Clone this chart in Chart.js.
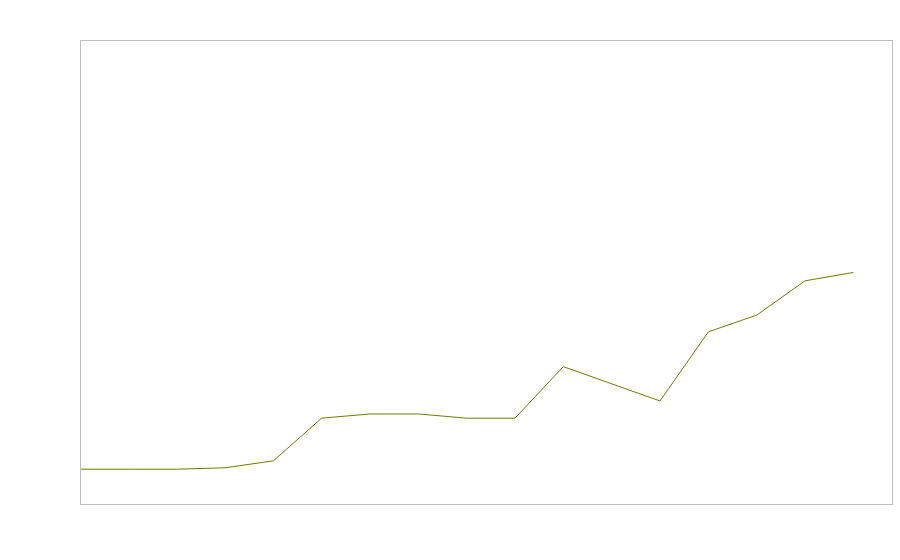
<!DOCTYPE html>
<html>
<head>
<meta charset="utf-8">
<script src="https://cdn.jsdelivr.net/npm/chart.js@4"></script>
<style>
  html, body { margin: 0; padding: 0; background: #fff; }
  #wrap { width: 900px; height: 560px; }
</style>
</head>
<body>
<div id="wrap"><canvas id="chart" width="900" height="560"></canvas></div>
<script>
// data (no tick labels shown, so units are relative)
const categories = [0, 1, 2, 3, 4, 5, 6, 7, 8, 9, 10, 11, 12, 13, 14, 15, 16];
const values = [7.5, 7.5, 7.5, 7.8, 9.3, 18.5, 19.4, 19.4, 18.5, 18.5, 29.6, 25.9, 22.2, 37.1, 40.7, 48.1, 49.9];
const xMin = 0;
const xMax = 16.8;
const yMin = 0;
const yMax = 100;

// box round the plot area
const frame = {
    id: 'frame',
    afterDraw(chart) {
        const a = chart.chartArea;
        const ctx = chart.ctx;
        ctx.save();
        ctx.strokeStyle = '#bdbdbd';
        ctx.lineWidth = 1;
        ctx.strokeRect(Math.round(a.left) + 0.5, Math.round(a.top) + 0.5,
            Math.round(a.right - a.left), Math.round(a.bottom - a.top));
        ctx.restore();
    }
};

const ctx = document.getElementById('chart').getContext('2d');
new Chart(ctx, {
    type: 'line',
    data: {
        datasets: [{
            data: categories.map((c, i) => ({ x: c, y: values[i] })),
            borderColor: '#6b7f00',
            borderWidth: 1,
            pointRadius: 0,
            tension: 0,
            fill: false
        }]
    },
    options: {
        responsive: false,
        animation: false,
        layout: { padding: { left: 80, top: 40, right: 8, bottom: 56 } },
        plugins: {
            legend: { display: false },
            tooltip: { enabled: false }
        },
        scales: {
            x: { type: 'linear', min: xMin, max: xMax, display: false },
            y: { min: yMin, max: yMax, display: false }
        }
    },
    plugins: [frame]
});
</script>
</body>
</html>
